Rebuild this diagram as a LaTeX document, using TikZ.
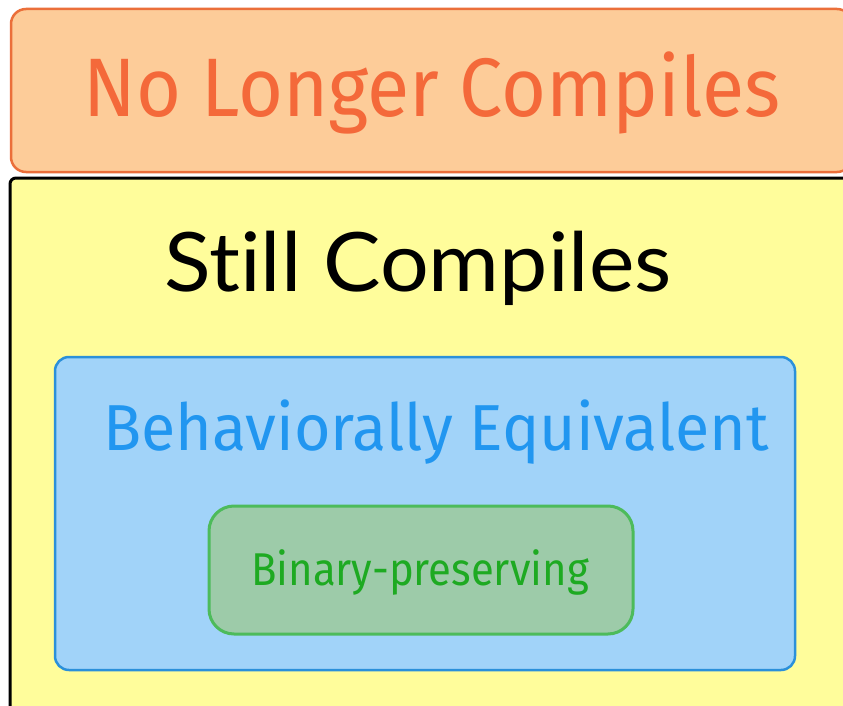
\documentclass[tikz,border=0pt]{standalone}
\usepackage{fontspec}
\usepackage{graphicx}
\setmainfont{Fira Sans}
\newfontfamily\latofont[Ligatures=NoCommon]{Lato}
\definecolor{orfill}{HTML}{FDCC99}
\definecolor{ordraw}{HTML}{EB6F3A}
\definecolor{ortext}{HTML}{F4693A}
\definecolor{yefill}{HTML}{FFFD9B}
\definecolor{blfill}{HTML}{A1D3F9}
\definecolor{bldraw}{HTML}{2B90DA}
\definecolor{bltext}{HTML}{2196F0}
\definecolor{grfill}{HTML}{9DCBA9}
\definecolor{grdraw}{HTML}{4DBB5B}
\definecolor{grtext}{HTML}{1EAA22}
\tikzset{
  lbl/.style={anchor=base, inner sep=0pt, outer sep=0pt}
}
\begin{document}
\begin{tikzpicture}[x=1pt,y=-1pt]
\useasboundingbox (0,0) rectangle (843,706);
\clip (0,0) rectangle (843,706);
\fill[white] (0,0) rectangle (843,706);
% orange box
\draw[ordraw, fill=orfill, line width=2.5pt, rounded corners=15pt] (11,9) rectangle (852,172);
% yellow box
\draw[black, fill=yefill, line width=3pt, rounded corners=6pt] (10,178) rectangle (855,716);
% blue box
\draw[bldraw, fill=blfill, line width=2.5pt, rounded corners=14pt] (55,357) rectangle (795,670);
% green box
\draw[grdraw, fill=grfill, line width=3pt, rounded corners=25pt] (209,506) rectangle (633,634);
% texts
\node[lbl, text=ortext, font=\fontsize{83}{83}\selectfont] (nolonger) at (432,117) {\scalebox{0.93}[1]{No Longer Compiles}};
\node[lbl, text=black, font=\latofont\fontsize{82}{82}\selectfont] (still) at (418,291) {\scalebox{1.05}[1]{Still Compiles}};
\node[lbl, text=bltext, font=\fontsize{65}{65}\selectfont] (behav) at (436,450) {\scalebox{0.965}[1]{Behaviorally Equivalent}};
\node[lbl, text=grtext, font=\fontsize{46}{46}\selectfont] (binary) at (420,585) {\scalebox{0.91}[1]{Binary-preserving}};
\end{tikzpicture}
\end{document}
